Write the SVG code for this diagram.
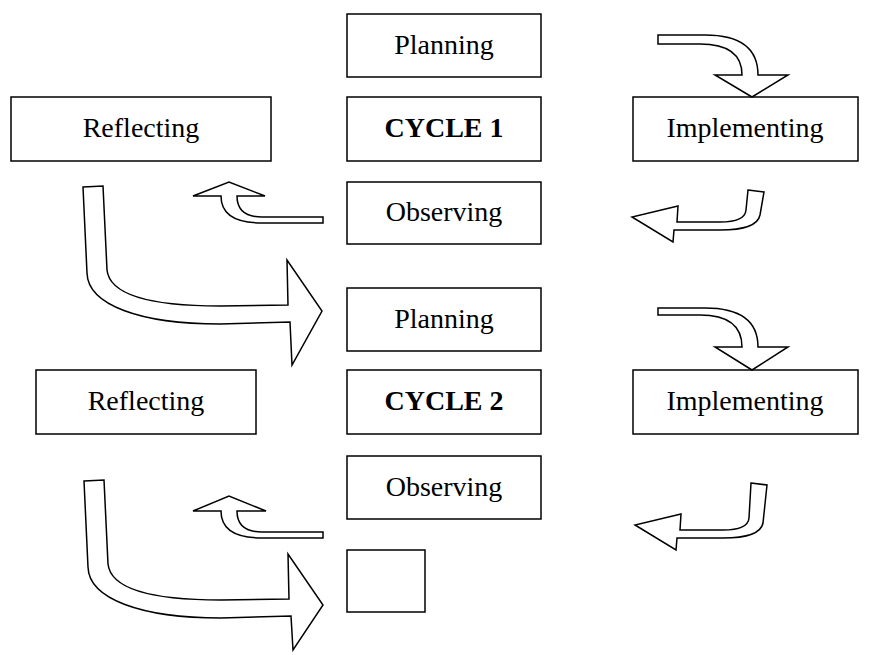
<svg xmlns="http://www.w3.org/2000/svg" width="880" height="655" viewBox="0 0 880 655">
<style>
.box{fill:#fff;stroke:#000;stroke-width:1.5}
.t{font-family:"Liberation Serif","Times New Roman",serif;font-size:28px;text-anchor:middle;fill:#000}
.b{font-weight:bold}
.arr{fill:#fff;stroke:#000;stroke-width:1.5;stroke-linejoin:miter}
</style>
<rect width="880" height="655" fill="#fff"/>
<g id="planning1"><rect class="box" x="347" y="14" width="194" height="63"/><text class="t" x="444" y="54">Planning</text></g>
<g id="reflecting1"><rect class="box" x="11" y="97" width="260" height="64"/><text class="t" x="141" y="137">Reflecting</text></g>
<g id="cycle1"><rect class="box" x="347" y="97" width="194" height="64"/><text class="t b" x="444" y="137">CYCLE 1</text></g>
<g id="implementing1"><rect class="box" x="633" y="97" width="225" height="64"/><text class="t" x="745" y="137">Implementing</text></g>
<g id="observing1"><rect class="box" x="347" y="182" width="194" height="62"/><text class="t" x="444" y="221">Observing</text></g>
<g id="planning2"><rect class="box" x="347" y="288" width="194" height="63"/><text class="t" x="444" y="328">Planning</text></g>
<g id="reflecting2"><rect class="box" x="36" y="370" width="220" height="64"/><text class="t" x="146" y="410">Reflecting</text></g>
<g id="cycle2"><rect class="box" x="347" y="370" width="194" height="64"/><text class="t b" x="444" y="410">CYCLE 2</text></g>
<g id="implementing2"><rect class="box" x="633" y="370" width="225" height="64"/><text class="t" x="745" y="410">Implementing</text></g>
<g id="observing2"><rect class="box" x="347" y="456" width="194" height="63"/><text class="t" x="444" y="496">Observing</text></g>
<g id="next"><rect class="box" x="347" y="550" width="78" height="62"/></g>
<g id="connectors">
<path class="arr" d="M658,35 L705,35 Q758,35 758,75 L788,75 L752,97 L715,75 L742,75 Q742,44 700,44 L658,44 Z"/>
<path class="arr" d="M748,190 L764,192 L760,215 Q757,230 720,230 L674,230 L673,242 L632,217 L678,206 L677,222 L720,222 Q745,222 746,210 Z"/>
<path class="arr" d="M323,217 L262,217 Q237,217 237,196 L265,196 L229,182 L193,196 L221,196 Q221,223 262,223 L323,223 Z"/>
<path class="arr" d="M83,187 L103,186 L107,270 C110,298 160,306 220,306 L288,305 L287,260 L322,311 L292,365 L290,322 L220,324 C140,324 88,305 87,273 Z"/>
<path class="arr" d="M658,308 L705,308 Q758,308 758,347 L788,347 L752,370 L715,347 L742,347 Q742,315 700,315 L658,315 Z"/>
<path class="arr" d="M751,483 L767,485 L763,523 Q760,538 723,538 L677,538 L676,550 L635,525 L681,514 L680,530 L723,530 Q748,530 749,518 Z"/>
<path class="arr" d="M323,532 L262,532 Q237,532 237,511 L266,511 L229,496 L193,511 L221,511 Q221,538 262,538 L323,538 Z"/>
<path class="arr" d="M84,481 L104,480 L108,564 C111,592 161,600 221,600 L289,599 L288,554 L323,605 L293,650 L291,616 L221,618 C141,618 89,599 88,567 Z"/>
</g>
</svg>
